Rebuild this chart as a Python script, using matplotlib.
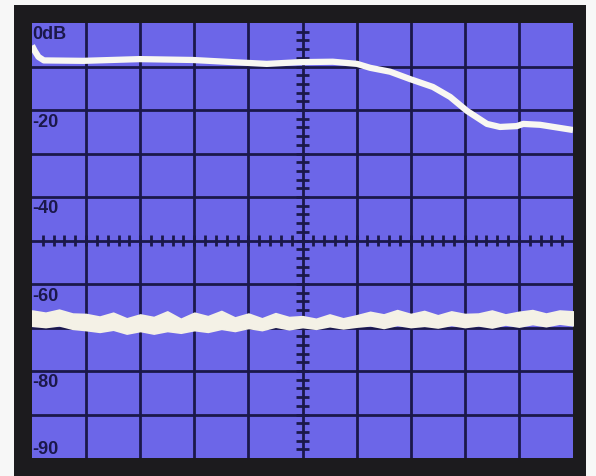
import numpy as np
import matplotlib.pyplot as plt
from matplotlib.patches import Rectangle

# screen is 10 x 10 divisions, y scale 10 dB/div (0 dB at top, -100 at bottom)
resp_x = [0.0, 0.05, 0.12, 0.22, 0.95, 1.99, 2.97, 3.72, 4.34, 4.95,
          5.56, 6.01, 6.25, 6.62, 6.99, 7.41, 7.73, 8.04, 8.41,
          8.65, 8.96, 9.08, 9.39, 10.0]
resp_db = [-5.2, -6.4, -7.8, -8.6, -8.7, -8.3, -8.5, -9.0, -9.4, -9.0,
           -8.9, -9.4, -10.3, -11.2, -12.9, -14.7, -17.0, -20.2, -23.2,
           -23.9, -23.7, -23.2, -23.4, -24.6]

noise_x = [i * 0.25 for i in range(41)]
noise_top = [-66.1, -66.6, -65.9, -66.8, -66.9, -67.5, -66.6, -67.9, -67.0,
             -67.6, -66.3, -68.0, -66.6, -67.4, -66.2, -67.7, -66.8,
             -67.9, -66.7, -67.6, -67.4, -68.0, -67.0, -67.9, -67.2,
             -66.4, -67.0, -66.0, -66.9, -66.2, -67.2, -66.3, -66.9,
             -66.8, -66.1, -67.0, -66.4, -66.0, -66.8, -66.1, -66.3]
noise_bot = [-69.6, -69.9, -69.5, -70.3, -70.6, -71.0, -70.5, -71.4, -70.8,
             -71.4, -70.8, -71.2, -70.6, -71.0, -70.3, -70.8, -70.1,
             -70.6, -69.8, -70.4, -69.9, -70.3, -69.7, -70.2, -69.8,
             -69.5, -70.1, -69.4, -69.9, -69.6, -70.0, -69.4, -69.9,
             -69.5, -70.0, -69.3, -69.8, -69.2, -69.7, -69.1, -69.5]

labels = ["0dB", "-20", "-40", "-60", "-80", "-90"]
label_y = [-2.5, -22.6, -42.3, -62.7, -82.5, -97.9]

screen = "#6c66e8"
grid = "#1b184a"
bezel = "#1c1b1e"
trace = "#f8f7f2"

fig = plt.figure(figsize=(5.96, 4.77), dpi=100)
fig.patch.set_facecolor("#f7f7f7")
fig.patches.append(Rectangle((14 / 596, 0), 572 / 596, 471 / 477,
                             transform=fig.transFigure, facecolor=bezel,
                             edgecolor="none", zorder=-1))

ax = fig.add_axes([32 / 596, 18 / 477, 541 / 596, 435 / 477])
ax.set_zorder(2)
ax.set_facecolor(screen)
ax.set_xlim(0, 10)
ax.set_ylim(-100, 0)
for s in ax.spines.values():
    s.set_visible(False)
ax.set_xticks([])
ax.set_yticks([])

# graticule
for gx in range(1, 10):
    ax.axvline(gx, color=grid, lw=2.0, zorder=1)
for gy in range(-90, 0, 10):
    ax.axhline(gy, color=grid, lw=2.0, zorder=1)
# minor ticks on centre lines
tx = np.arange(0.2, 10, 0.2)
ax.vlines(tx, -51.2, -48.8, color=grid, lw=2.0, zorder=1)
ty = np.arange(-98, 0, 2)
ax.hlines(ty, 4.88, 5.12, color=grid, lw=2.0, zorder=1)

# traces
ax.fill_between(noise_x, noise_bot, noise_top, color="#f4f1e6", lw=1.2,
                edgecolor="#f4f1e6", zorder=3)
ax.plot(resp_x, resp_db, color=trace, lw=4.5, solid_capstyle="butt",
        solid_joinstyle="round", zorder=4)

for t, y in zip(labels, label_y):
    ax.text(0.0, y, t, ha="left", va="center", fontsize=13,
            fontweight="bold", family="Liberation Sans", color=grid, zorder=5)

fig.savefig("out.png", dpi=100, facecolor=fig.get_facecolor())
